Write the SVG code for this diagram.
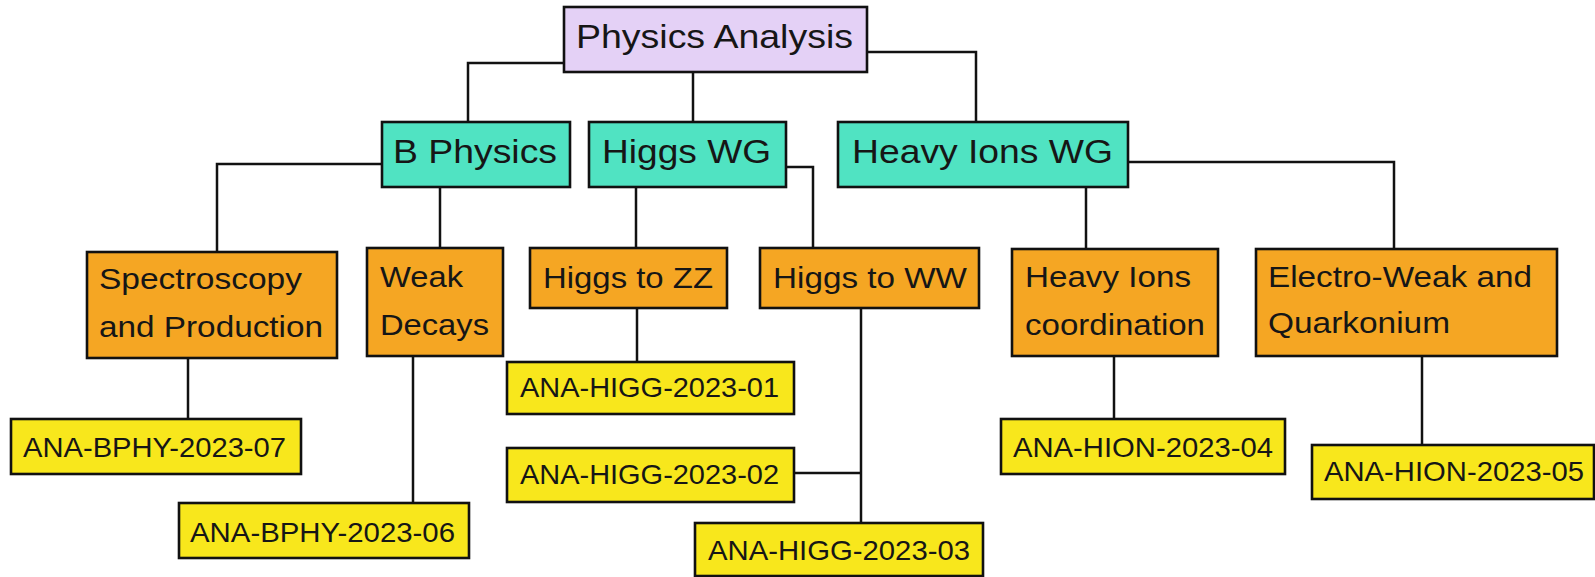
<svg xmlns="http://www.w3.org/2000/svg" width="1595" height="577" viewBox="0 0 1595 577">
  <style>
    .box { stroke: #111; stroke-width: 2.6; }
    .root { fill: #e4d1f6; }
    .wg { fill: #50e3c2; }
    .sub { fill: #f5a623; }
    .ana { fill: #f8e71c; }
    .link { fill: none; stroke: #111; stroke-width: 2.5; }
    text { font-family: "Liberation Sans", Arial, sans-serif; fill: #161616; }
    .t1 { font-size: 34px; }
    .t2 { font-size: 34px; }
    .t3 { font-size: 30px; }
    .t4 { font-size: 28px; }
  </style>

  <g id="connectors">
    <path class="link" d="M564,63 H468 V122"/>
    <path class="link" d="M693,72 V122"/>
    <path class="link" d="M867,52 H976 V122"/>
    <path class="link" d="M382,164 H217 V252"/>
    <path class="link" d="M440,187 V248"/>
    <path class="link" d="M636,187 V248"/>
    <path class="link" d="M786,167 H813 V248"/>
    <path class="link" d="M1086,187 V249"/>
    <path class="link" d="M1128,162 H1394 V249"/>
    <path class="link" d="M188,358 V419"/>
    <path class="link" d="M413,356 V503"/>
    <path class="link" d="M637,308 V362"/>
    <path class="link" d="M861,308 V523"/>
    <path class="link" d="M794,473 H862"/>
    <path class="link" d="M1114,356 V419"/>
    <path class="link" d="M1422,356 V445"/>
  </g>

  <g id="physics-analysis">
    <rect class="box root" x="564" y="7" width="303" height="65"/>
    <text class="t1" x="576" y="48" textLength="277" lengthAdjust="spacingAndGlyphs">Physics Analysis</text>
  </g>

  <g id="b-physics">
    <rect class="box wg" x="382" y="122" width="188" height="65"/>
    <text class="t2" x="393" y="163" textLength="164" lengthAdjust="spacingAndGlyphs">B Physics</text>
  </g>
  <g id="higgs-wg">
    <rect class="box wg" x="589" y="122" width="197" height="65"/>
    <text class="t2" x="602" y="163" textLength="169" lengthAdjust="spacingAndGlyphs">Higgs WG</text>
  </g>
  <g id="heavy-ions-wg">
    <rect class="box wg" x="838" y="122" width="290" height="65"/>
    <text class="t2" x="852" y="163" textLength="261" lengthAdjust="spacingAndGlyphs">Heavy Ions WG</text>
  </g>

  <g id="spectroscopy">
    <rect class="box sub" x="87" y="252" width="250" height="106"/>
    <text class="t3" x="99" y="289" textLength="203" lengthAdjust="spacingAndGlyphs">Spectroscopy</text>
    <text class="t3" x="99" y="337" textLength="224" lengthAdjust="spacingAndGlyphs">and Production</text>
  </g>
  <g id="weak-decays">
    <rect class="box sub" x="367" y="248" width="136" height="108"/>
    <text class="t3" x="380" y="287" textLength="83" lengthAdjust="spacingAndGlyphs">Weak</text>
    <text class="t3" x="380" y="335" textLength="109" lengthAdjust="spacingAndGlyphs">Decays</text>
  </g>
  <g id="higgs-zz">
    <rect class="box sub" x="530" y="248" width="197" height="60"/>
    <text class="t3" x="543" y="288" textLength="170" lengthAdjust="spacingAndGlyphs">Higgs to ZZ</text>
  </g>
  <g id="higgs-ww">
    <rect class="box sub" x="760" y="248" width="219" height="60"/>
    <text class="t3" x="773" y="288" textLength="194" lengthAdjust="spacingAndGlyphs">Higgs to WW</text>
  </g>
  <g id="heavy-ions-coordination">
    <rect class="box sub" x="1012" y="249" width="206" height="107"/>
    <text class="t3" x="1025" y="287" textLength="166" lengthAdjust="spacingAndGlyphs">Heavy Ions</text>
    <text class="t3" x="1025" y="335" textLength="180" lengthAdjust="spacingAndGlyphs">coordination</text>
  </g>
  <g id="electroweak-quarkonium">
    <rect class="box sub" x="1256" y="249" width="301" height="107"/>
    <text class="t3" x="1268" y="287" textLength="264" lengthAdjust="spacingAndGlyphs">Electro-Weak and</text>
    <text class="t3" x="1268" y="333" textLength="182" lengthAdjust="spacingAndGlyphs">Quarkonium</text>
  </g>

  <g id="ana-bphy-2023-07">
    <rect class="box ana" x="11" y="419" width="290" height="55"/>
    <text class="t4" x="23" y="457" textLength="263" lengthAdjust="spacingAndGlyphs">ANA-BPHY-2023-07</text>
  </g>
  <g id="ana-bphy-2023-06">
    <rect class="box ana" x="179" y="503" width="290" height="55"/>
    <text class="t4" x="190" y="542" textLength="265" lengthAdjust="spacingAndGlyphs">ANA-BPHY-2023-06</text>
  </g>
  <g id="ana-higg-2023-01">
    <rect class="box ana" x="507" y="362" width="287" height="52"/>
    <text class="t4" x="520" y="397" textLength="259" lengthAdjust="spacingAndGlyphs">ANA-HIGG-2023-01</text>
  </g>
  <g id="ana-higg-2023-02">
    <rect class="box ana" x="507" y="448" width="287" height="54"/>
    <text class="t4" x="520" y="484" textLength="259" lengthAdjust="spacingAndGlyphs">ANA-HIGG-2023-02</text>
  </g>
  <g id="ana-higg-2023-03">
    <rect class="box ana" x="695" y="523" width="288" height="53"/>
    <text class="t4" x="708" y="560" textLength="262" lengthAdjust="spacingAndGlyphs">ANA-HIGG-2023-03</text>
  </g>
  <g id="ana-hion-2023-04">
    <rect class="box ana" x="1001" y="419" width="284" height="55"/>
    <text class="t4" x="1013" y="457" textLength="260" lengthAdjust="spacingAndGlyphs">ANA-HION-2023-04</text>
  </g>
  <g id="ana-hion-2023-05">
    <rect class="box ana" x="1312" y="445" width="282" height="54"/>
    <text class="t4" x="1324" y="481" textLength="260" lengthAdjust="spacingAndGlyphs">ANA-HION-2023-05</text>
  </g>
</svg>
